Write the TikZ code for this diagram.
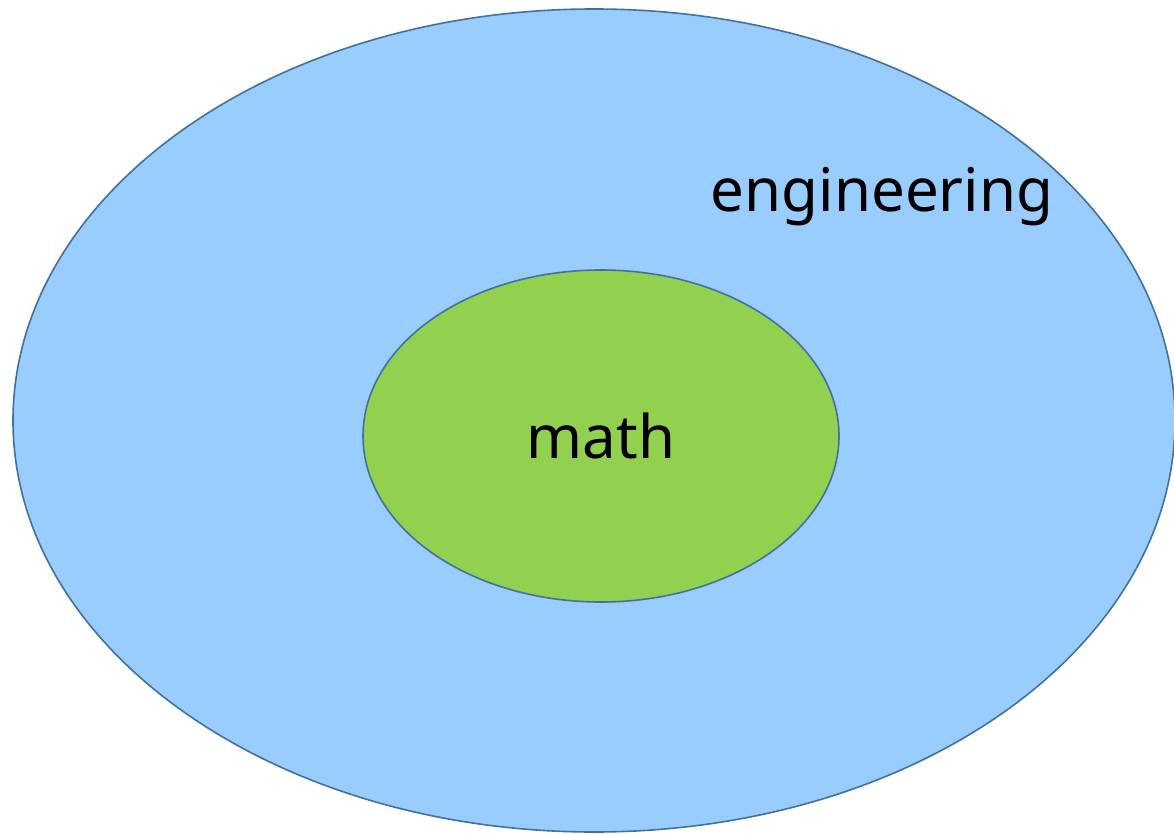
\documentclass[tikz,border=0pt]{standalone}
\usepackage{fontspec}
\setmainfont{Noto Sans}
\usetikzlibrary{positioning,shapes.geometric}
\definecolor{edge}{HTML}{41719C}
\definecolor{skyfill}{HTML}{99CCFF}
\definecolor{leaffill}{HTML}{92D050}
\tikzset{
  field/.style={draw=edge, line width=1.6pt, ellipse, inner sep=0pt},
  lbl/.style={font=\fontsize{60}{66}\selectfont, text=black, inner sep=0pt},
}
\begin{document}
\begin{tikzpicture}[x=1pt, y=-1pt]
  \useasboundingbox (0,0) rectangle (1174,834);
  \node[field, fill=skyfill, minimum width=1162pt, minimum height=823pt] (eng) at (594,420.5) {};
  \node[field, fill=leaffill, minimum width=476pt, minimum height=332pt] (mth) at (601,436) {};
  \node[lbl] (mathlbl) at (mth.center) {math};
  \node[lbl] (englbl) at (882,197) {engineering};
\end{tikzpicture}
\end{document}
